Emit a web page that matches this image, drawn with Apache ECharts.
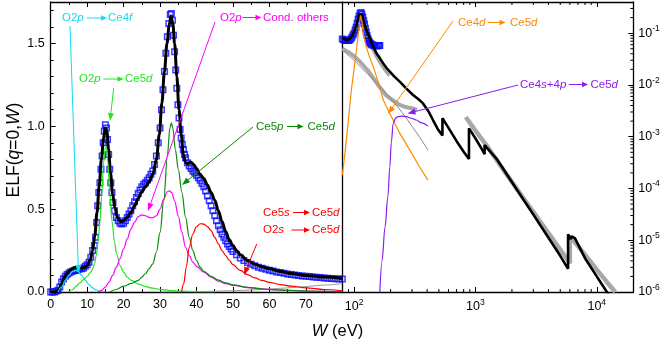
<!DOCTYPE html>
<html><head><meta charset="utf-8">
<script src="https://cdn.jsdelivr.net/npm/echarts@6/dist/echarts.min.js"></script>
<style>html,body{margin:0;padding:0;background:#fff}#c{width:664px;height:343px}</style>
</head><body><div id="c"></div>
<script>
// ---------------- DATA ----------------
// Left panel (linear W, eV)
const expLeft = [[0,0],[0.5,0],[1,0],[1.5,0.005],[2,0.01],[2.5,0.03],[3,0.06],[3.5,0.08],[4,0.095],[4.5,0.105],[5,0.115],[5.5,0.12],[6,0.125],[6.5,0.13],[7,0.13],[7.5,0.135],[8,0.14],[8.5,0.14],[9,0.145],[9.5,0.155],[10,0.165],[10.5,0.18],[11,0.21],[11.5,0.25],[12,0.28],[12.3,0.33],[12.6,0.42],[12.9,0.52],[13.2,0.6],[13.5,0.66],[13.8,0.74],[14.1,0.82],[14.4,0.9],[14.7,0.97],[15,1.01],[15.3,0.99],[15.6,0.92],[15.9,0.83],[16.2,0.74],[16.5,0.66],[16.8,0.6],[17.1,0.54],[17.5,0.49],[18,0.45],[18.5,0.43],[19,0.415],[19.5,0.41],[20,0.415],[20.5,0.43],[21,0.45],[21.5,0.47],[22,0.49],[22.5,0.52],[23,0.545],[23.5,0.57],[24,0.595],[24.5,0.615],[25,0.635],[25.5,0.65],[26,0.66],[26.5,0.675],[27,0.69],[27.5,0.71],[28,0.73],[28.5,0.77],[29,0.82],[29.5,0.9],[30,0.99],[30.4,1.1],[30.8,1.22],[31.2,1.33],[31.6,1.44],[32,1.54],[32.4,1.62],[32.8,1.675],[33.1,1.68],[33.4,1.64],[33.7,1.55],[34,1.45],[34.3,1.34],[34.6,1.23],[34.9,1.13],[35.2,1.05],[35.5,0.98],[35.8,0.93],[36.1,0.89],[36.4,0.86],[36.7,0.83],[37,0.81],[37.5,0.78],[38,0.76],[38.5,0.745],[39,0.73],[39.5,0.72],[40,0.705],[40.5,0.69],[41,0.675],[41.5,0.655],[42,0.635],[42.5,0.61],[43,0.58],[43.5,0.55],[44,0.52],[44.5,0.49],[45,0.46],[45.5,0.43],[46,0.4],[46.5,0.375],[47,0.35],[47.5,0.33],[48,0.31],[48.5,0.29],[49,0.275],[49.5,0.26],[50,0.245],[51,0.225],[52,0.205],[53,0.19],[54,0.178],[55,0.168],[56,0.158],[57,0.15],[58,0.143],[59,0.137],[60,0.131],[61,0.126],[62,0.121],[63,0.117],[64,0.113],[65,0.109],[66,0.106],[67,0.103],[68,0.1],[69,0.097],[70,0.095],[71,0.093],[72,0.091],[73,0.089],[74,0.087],[75,0.085],[76,0.083],[77,0.082],[78,0.08],[79,0.079],[80,0.078]];
const totalLeft = [[0,0],[1.5,0],[2.2,0.01],[3,0.05],[3.8,0.09],[4.6,0.115],[5.5,0.135],[6.5,0.148],[7.5,0.15],[8.5,0.145],[9.3,0.148],[10,0.16],[10.8,0.19],[11.5,0.25],[12.1,0.34],[12.7,0.48],[13.3,0.64],[13.9,0.8],[14.5,0.93],[15,0.99],[15.4,0.97],[15.9,0.86],[16.4,0.72],[17,0.59],[17.6,0.51],[18.3,0.45],[19.2,0.425],[20,0.43],[21,0.45],[22,0.48],[23,0.52],[24,0.565],[25,0.605],[26,0.635],[27,0.665],[28,0.71],[29,0.8],[29.8,0.95],[30.5,1.14],[31.2,1.33],[31.9,1.5],[32.5,1.61],[33,1.665],[33.5,1.62],[34,1.5],[34.6,1.3],[35.2,1.1],[35.8,0.95],[36.4,0.83],[37,0.78],[37.6,0.775],[38.4,0.785],[39.2,0.77],[40,0.745],[41,0.71],[42,0.685],[43,0.645],[44,0.6],[45,0.555],[46,0.49],[47,0.425],[48,0.365],[49,0.315],[50,0.28],[51,0.25],[52,0.225],[54,0.19],[56,0.168],[58,0.152],[60,0.14],[63,0.124],[66,0.112],[70,0.1],[75,0.09],[80,0.082]];
const o2pCe4f = [[2,0],[3,0.03],[4,0.07],[5,0.1],[6,0.125],[6.8,0.13],[7.5,0.125],[8.5,0.1],[9.5,0.07],[10.5,0.045],[11.5,0.025],[12.5,0.012],[13.5,0.004],[15,0]];
const o2pCe5d = [[4.8,0],[6,0.015],[7,0.035],[8,0.055],[9,0.075],[10,0.095],[11,0.12],[11.5,0.14],[12,0.17],[12.5,0.22],[13,0.3],[13.5,0.42],[14,0.58],[14.5,0.78],[15,0.875],[15.3,0.87],[15.7,0.78],[16.2,0.6],[16.8,0.43],[17.5,0.3],[18.1,0.23],[19,0.16],[20,0.12],[21,0.09],[22,0.072],[24,0.048],[26,0.033],[28,0.023],[30,0.016],[33,0.009],[36,0.005],[40,0.002],[45,0.0005]];
const o2pOthers = [[13,0],[14,0.01],[15,0.03],[16,0.06],[17,0.1],[18,0.15],[19,0.2],[20,0.26],[21,0.32],[22,0.38],[23,0.42],[24,0.455],[25,0.465],[26,0.46],[27,0.45],[28,0.448],[29,0.46],[30,0.5],[31,0.56],[32,0.605],[32.6,0.61],[33.2,0.6],[34,0.55],[35,0.46],[36,0.36],[37,0.27],[38,0.22],[39,0.18],[40,0.155],[42,0.12],[44,0.09],[46,0.065],[48,0.05],[50,0.04],[55,0.025],[60,0.016],[65,0.01],[70,0.006],[80,0.002]];
const ce5pCe5d = [[16.2,0],[18,0.015],[20,0.035],[22,0.05],[24,0.07],[25,0.09],[26,0.11],[27,0.14],[28,0.17],[29,0.24],[30,0.36],[31,0.55],[32,0.82],[32.7,0.99],[33.1,1.02],[33.5,0.99],[34.2,0.86],[35,0.74],[36,0.6],[37,0.45],[38,0.33],[39,0.25],[40,0.19],[41,0.15],[42,0.125],[44,0.095],[46,0.072],[48,0.055],[50,0.043],[54,0.028],[58,0.018],[62,0.012],[68,0.007],[74,0.004],[80,0.002]];
const ce5sCe5d = [[35.9,0],[36.5,0.05],[37.2,0.15],[38,0.27],[39,0.35],[40,0.395],[41,0.412],[42,0.41],[43,0.395],[44,0.37],[45,0.33],[46,0.29],[47,0.25],[48,0.22],[49,0.19],[50,0.165],[52,0.13],[54,0.105],[56,0.085],[58,0.07],[60,0.058],[63,0.045],[66,0.035],[70,0.025],[75,0.015],[80,0.007]];
const grayLeft = [[30,0],[40,0.002],[50,0.008],[55,0.012],[60,0.018],[65,0.025],[70,0.033],[75,0.042],[80,0.05]];

// Right panel (log W, log ELF)
const expRight = [[80,0.077],[82,0.075],[84,0.073],[86,0.072],[88,0.072],[90,0.072],[92,0.074],[94,0.077],[96,0.083],[98,0.092],[100,0.1],[102,0.115],[104,0.13],[106,0.155],[108,0.185],[110,0.215],[112,0.24],[114,0.25],[116,0.235],[118,0.205],[120,0.175],[122,0.15],[124,0.125],[126,0.105],[128,0.09],[130,0.08],[132,0.072],[134,0.067],[136,0.064],[138,0.062],[140,0.06],[143,0.059],[146,0.058],[149,0.057],[152,0.057],[155,0.057],[158,0.057],[161,0.058],[163,0.058]];
const totalRight = [[80,0.082],[84,0.076],[88,0.074],[92,0.077],[96,0.088],[100,0.105],[104,0.14],[108,0.19],[111,0.235],[114,0.25],[117,0.225],[120,0.175],[124,0.13],[128,0.105],[132,0.09],[137,0.072],[145,0.053],[153,0.041],[163,0.033],[174,0.026],[186,0.021],[197,0.018],[215,0.0145],[238,0.0116],[270,0.0085],[306,0.0064],[340,0.0053],[370,0.0044],[410,0.0031],[447,0.0021],[490,0.0014],[535,0.00105],[535,0.00228],[600,0.00148],[700,0.00082],[800,0.00051],[885,0.00037],[885,0.00145],[1000,0.00093],[1100,0.00064],[1190,0.00046],[1190,0.00069],[1500,0.00037],[1800,0.000193],[2290,0.000082],[3000,0.0000313],[4000,0.0000112],[5000,0.000005],[5800,0.0000028],[5800,0.000013],[6100,0.0000105],[6200,0.0000118],[6600,0.000011],[8000,0.0000045],[10000,0.000002],[11900,0.00000107],[12500,0.0000009]];
const grayBandLow = [[80,0.05],[90,0.043],[100,0.036],[112,0.028],[130,0.019],[144,0.0135],[163,0.009],[185,0.0062],[210,0.005],[238,0.0041],[270,0.0037],[306,0.0035],[330,0.0033]];
const grayPeak = [[96,0.085],[100,0.1],[104,0.13],[108,0.18],[112,0.215],[116,0.22],[120,0.18],[124,0.13],[128,0.095],[133,0.07],[140,0.052],[150,0.038],[160,0.029],[175,0.021],[195,0.015]];
const grayBandHigh = [[832,0.0024],[1000,0.00131],[1260,0.00064],[1600,0.00028],[2000,0.000134],[2600,0.000056],[3200,0.0000285],[4000,0.0000137],[5000,0.0000066],[6000,0.0000036],[6000,0.000012],[7000,0.0000077],[8500,0.0000044],[10000,0.0000027],[12000,0.0000016],[14200,0.000001]];
const grayThin = [[82,0.045],[100,0.03],[130,0.016],[163,0.0095],[200,0.0055],[250,0.0029],[300,0.0016],[350,0.00095],[407,0.00055]];
const ce4dCe5d = [[80,0.00018],[85,0.0006],[90,0.0022],[95,0.008],[100,0.02],[105,0.05],[110,0.13],[113,0.22],[116,0.17],[119,0.1],[126,0.055],[135,0.033],[144,0.0226],[160,0.0105],[174,0.0051],[197,0.0028],[238,0.00117],[288,0.00055],[347,0.00026],[407,0.000145]];
const ce4s4pCe5d = [[163,0.000001],[170,0.000004],[180,0.000018],[190,0.00007],[197,0.00026],[203,0.0008],[210,0.0018],[220,0.0023],[231,0.00245],[250,0.0025],[270,0.00245],[300,0.00225],[326,0.0021],[360,0.00185],[407,0.0016]];

// axis ticks
const leftXTicks = [0,10,20,30,40,50,60,70];
const leftYTicks = ['0.0','0.5','1.0','1.5'];
const logXMinor = [90,200,300,400,500,600,700,800,900,2000,3000,4000,5000,6000,7000,8000,9000];
const logYMinor = [2e-6,3e-6,4e-6,5e-6,6e-6,7e-6,8e-6,9e-6,2e-5,3e-5,4e-5,5e-5,6e-5,7e-5,8e-5,9e-5,2e-4,3e-4,4e-4,5e-4,6e-4,7e-4,8e-4,9e-4,2e-3,3e-3,4e-3,5e-3,6e-3,7e-3,8e-3,9e-3,0.02,0.03,0.04,0.05,0.06,0.07,0.08,0.09,0.2,0.3];

// ---------------- CHART ----------------
const F = '"Liberation Sans", Arial, sans-serif';
const X0 = 0, X1 = 80, Y0 = 0, Y1 = 1.75;
const LX0 = 80, LX1 = 20000, LY0 = 1e-6, LY1 = 0.4;
const chart = echarts.init(document.getElementById('c'), null, {renderer: 'canvas'});

const lineAx = {show: true, lineStyle: {color: '#000', width: 1.3}};
const lab = {color: '#000', fontSize: 12.5, fontFamily: F};
const supRich = {b: {fontSize: 12.5, fontFamily: F, color: '#000', lineHeight: 18}, s: {fontSize: 8.5, fontFamily: F, color: '#000', lineHeight: 10, verticalAlign: 'top'}};
function powLabel(v) {
  const e = Math.log10(v), r = Math.round(e);
  return Math.abs(e - r) < 1e-6 ? '{b|10}{s|' + r + '}' : '';
}
function g0Axis(extra) { return Object.assign({gridIndex: 0, type: 'value', min: X0, max: X1, splitLine: {show: false}}, extra); }

const xAxis = [
  g0Axis({position: 'bottom', interval: 10, axisLine: lineAx, axisTick: {inside: true, length: 5, lineStyle: {color: '#000', width: 1}},
    axisLabel: Object.assign({margin: 6, showMaxLabel: false, formatter: v => leftXTicks.indexOf(v) >= 0 ? String(v) : ''}, lab)}),
  g0Axis({position: 'bottom', interval: 5, axisLine: {show: false}, axisTick: {inside: true, length: 3, lineStyle: {color: '#000'}}, axisLabel: {show: false}}),
  g0Axis({position: 'top', interval: 10, axisLine: lineAx, axisTick: {inside: true, length: 5, lineStyle: {color: '#000'}}, axisLabel: {show: false}}),
  g0Axis({position: 'top', interval: 5, axisLine: {show: false}, axisTick: {inside: true, length: 3, lineStyle: {color: '#000'}}, axisLabel: {show: false}}),
  {gridIndex: 1, type: 'log', logBase: 10, min: LX0, max: LX1, position: 'bottom', splitLine: {show: false},
    axisLine: lineAx, axisTick: {inside: true, length: 5, lineStyle: {color: '#000'}},
    axisLabel: {margin: 6, formatter: powLabel, rich: supRich}},
  {gridIndex: 1, type: 'log', logBase: 10, min: LX0, max: LX1, position: 'top', splitLine: {show: false},
    axisLine: lineAx, axisTick: {inside: true, length: 5, lineStyle: {color: '#000'}}, axisLabel: {show: false}}
];
const yAxis = [
  {gridIndex: 0, type: 'value', min: Y0, max: Y1, interval: 0.5, position: 'left', splitLine: {show: false},
    axisLine: lineAx, axisTick: {inside: true, length: 5, lineStyle: {color: '#000'}},
    axisLabel: Object.assign({margin: 6, showMaxLabel: false, formatter: v => { const s = v.toFixed(1); return leftYTicks.indexOf(s) >= 0 ? s : ''; }}, lab)},
  {gridIndex: 0, type: 'value', min: Y0, max: Y1, interval: 0.1, position: 'left', splitLine: {show: false},
    axisLine: {show: false}, axisTick: {inside: true, length: 3, lineStyle: {color: '#000'}}, axisLabel: {show: false}},
  {gridIndex: 1, type: 'log', logBase: 10, min: LY0, max: LY1, position: 'right', splitLine: {show: false},
    axisLine: lineAx, axisTick: {inside: true, length: 5, lineStyle: {color: '#000'}},
    axisLabel: {margin: 5, formatter: powLabel, rich: supRich}},
  {gridIndex: 1, type: 'log', logBase: 10, min: LY0, max: LY1, position: 'left', splitLine: {show: false},
    axisLine: lineAx, axisTick: {show: false}, axisLabel: {show: false}}
];

function ln(data, color, width, xi, yi, extra) {
  return Object.assign({type: 'line', data: data, xAxisIndex: xi, yAxisIndex: yi, showSymbol: false, symbol: 'none',
    lineStyle: {color: color, width: width}, itemStyle: {color: color}, silent: true, animation: false, z: 3}, extra || {});
}
const sm = {smooth: 0.35, smoothMonotone: 'x'};
const blueSq = {color: 'rgba(255,255,255,0)', borderColor: '#0a0aff', borderWidth: 1.5};

const series = [
  // left panel
  {type: 'scatter', data: expLeft, xAxisIndex: 0, yAxisIndex: 0, symbol: 'rect', symbolSize: 5.5, silent: true, animation: false, z: 2, itemStyle: blueSq},
  ln(totalLeft, '#000', 3, 0, 0, Object.assign({z: 3}, sm)),
  ln(grayLeft, '#9a9a9a', 1, 0, 0, Object.assign({z: 4}, sm)),
  ln(o2pCe4f, '#10dcf5', 1.2, 0, 0, Object.assign({z: 4}, sm)),
  ln(o2pCe5d, '#22e622', 1.2, 0, 0, Object.assign({z: 4}, sm)),
  ln(o2pOthers, '#ff00ff', 1.2, 0, 0, Object.assign({z: 4}, sm)),
  ln(ce5pCe5d, '#0a8a0a', 1.2, 0, 0, Object.assign({z: 4}, sm)),
  ln(ce5sCe5d, '#ff0000', 1.2, 0, 0, Object.assign({z: 4}, sm)),
  // right panel
  ln(grayBandLow, '#a8a8a8', 4, 4, 2, {z: 2}),
  ln(grayPeak, '#a8a8a8', 3, 4, 2, {z: 2}),
  ln(grayBandHigh, '#a8a8a8', 4.5, 4, 2, {z: 2}),
  ln(grayThin, '#8c8c8c', 1, 4, 2, {z: 2}),
  {type: 'scatter', data: expRight, xAxisIndex: 4, yAxisIndex: 2, symbol: 'rect', symbolSize: 5.5, silent: true, animation: false, z: 2, itemStyle: blueSq},
  ln(totalRight, '#000', 2.6, 4, 2, {z: 3}),
  ln(ce4dCe5d, '#ff8a00', 1.2, 4, 2, {z: 4}),
  ln(ce4s4pCe5d, '#8a1cf0', 1.2, 4, 2, Object.assign({z: 4}, sm)),
  // log-axis minor ticks (bottom/top)
  {type: 'custom', xAxisIndex: 4, yAxisIndex: 2, silent: true, animation: false, clip: false, z: 5,
    data: logXMinor.map(v => [v, 1e-3]),
    renderItem: function (p, api) {
      const v = api.value(0); const b = api.coord([v, LY0]); const t = api.coord([v, LY1]);
      return {type: 'group', children: [
        {type: 'line', shape: {x1: b[0], y1: b[1], x2: b[0], y2: b[1] - 3}, style: {stroke: '#000', lineWidth: 1}},
        {type: 'line', shape: {x1: t[0], y1: t[1], x2: t[0], y2: t[1] + 3}, style: {stroke: '#000', lineWidth: 1}}]};
    }},
  {type: 'custom', xAxisIndex: 4, yAxisIndex: 2, silent: true, animation: false, clip: false, z: 5,
    data: logYMinor.map(v => [1000, v]),
    renderItem: function (p, api) {
      const v = api.value(1); const r = api.coord([LX1, v]);
      return {type: 'line', shape: {x1: r[0], y1: r[1], x2: r[0] - 3, y2: r[1]}, style: {stroke: '#000', lineWidth: 1}};
    }}
];

// ---------------- ANNOTATIONS ----------------
const FS = 11.5;
function rich(color) {
  return {n: {fill: color, color: color, fontSize: FS, fontFamily: F},
          i: {fill: color, color: color, fontSize: FS, fontFamily: F, fontStyle: 'italic'}};
}
function txt(x, y, s, color) {
  return {type: 'text', x: x, y: y, silent: true, z: 100,
    style: {text: s, fill: color, font: FS + 'px ' + F, textAlign: 'left', textVerticalAlign: 'middle', rich: rich(color)}};
}
function arrow(x1, y1, x2, y2, color, head, hw) {
  head = head || 7; hw = hw || 2.8;
  const a = Math.atan2(y2 - y1, x2 - x1);
  const bx = x2 - head * Math.cos(a), by = y2 - head * Math.sin(a);
  const px = -Math.sin(a) * hw, py = Math.cos(a) * hw;
  return [
    {type: 'line', silent: true, z: 100, shape: {x1: x1, y1: y1, x2: bx + Math.cos(a), y2: by + Math.sin(a)}, style: {stroke: color, lineWidth: 1}},
    {type: 'polygon', silent: true, z: 100, shape: {points: [[x2, y2], [bx + px, by + py], [bx - px, by - py]]}, style: {fill: color}}
  ];
}
// [leftText, xL, y, arrowFromX, arrowToX, rightText, xR, color, pointer]
const notes = [
  ['{n|O2}{i|p}', 62, 18, 87, 107, '{n|Ce4}{i|f}', 108, '#10dcf5', [70, 26, 78.5, 273]],
  ['{n|O2}{i|p}', 79, 79, 103.5, 123.5, '{n|Ce5}{i|d}', 125, '#22e622', [113.7, 88, 110, 121]],
  ['{n|O2}{i|p}', 220, 17.5, 242.5, 261.5, '{n|Cond. others}', 263, '#ff00ff', [215, 22, 148, 211]],
  ['{n|Ce5}{i|p}', 256, 126.5, 287, 303.5, '{n|Ce5}{i|d}', 307.5, '#0a8a0a', [253, 127, 182, 185]],
  ['{n|Ce5}{i|s}', 263, 212.5, 293, 310, '{n|Ce5}{i|d}', 312, '#ff0000', null],
  ['{n|O2}{i|s}', 263, 230, 291.5, 310, '{n|Ce5}{i|d}', 312, '#ff0000', [256.7, 244, 244, 275]],
  ['{n|Ce4}{i|d}', 458, 22.5, 488, 505.5, '{n|Ce5}{i|d}', 510, '#ff8a00', [453, 21, 388, 114]],
  ['{n|Ce4}{i|s}{n|+4}{i|p}', 520, 84.5, 569, 588, '{n|Ce5}{i|d}', 590.5, '#8a1cf0', [518, 85, 407.5, 113.5]]
];
const graphics = [];
notes.forEach(n => {
  graphics.push(txt(n[1], n[2], n[0], n[7]));
  arrow(n[3], n[2], n[4], n[2], n[7], 6, 2.8).forEach(e => graphics.push(e));
  graphics.push(txt(n[6], n[2], n[5], n[7]));
  if (n[8]) arrow(n[8][0], n[8][1], n[8][2], n[8][3], n[7], 8, 3).forEach(e => graphics.push(e));
});
// axis titles
graphics.push({type: 'text', x: 14, y: 150, rotation: Math.PI / 2, silent: true, z: 100,
  style: {text: 'ELF({i|q}=0,{i|W})', fill: '#000', font: '17.5px ' + F, textAlign: 'center', textVerticalAlign: 'middle',
    rich: {i: {fontStyle: 'italic', fontSize: 17.5, fontFamily: F, fill: '#000'}}}});
graphics.push({type: 'text', x: 337.5, y: 331, silent: true, z: 100,
  style: {text: '{i|W} (eV)', fill: '#000', font: '16.5px ' + F, textAlign: 'center', textVerticalAlign: 'middle',
    rich: {i: {fontStyle: 'italic', fontSize: 16.5, fontFamily: F, fill: '#000'}}}});

chart.setOption({
  animation: false,
  backgroundColor: '#fff',
  grid: [
    {left: 50.7, top: 2, width: 291.6, height: 290, containLabel: false},
    {left: 342.3, top: 2, width: 291, height: 290, containLabel: false}
  ],
  xAxis: xAxis,
  yAxis: yAxis,
  series: series,
  graphic: {elements: graphics}
});
</script></body></html>
